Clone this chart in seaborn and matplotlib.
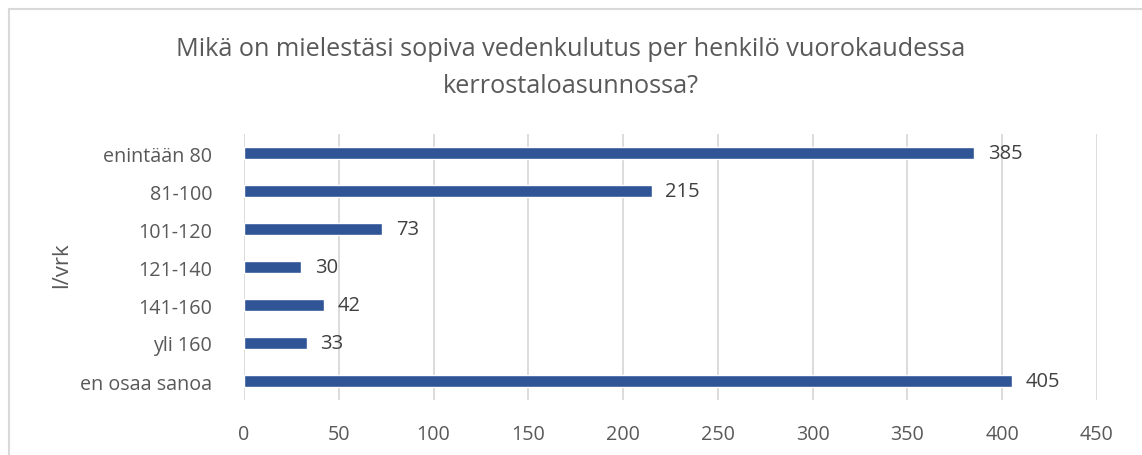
import matplotlib
matplotlib.use("Agg")
import matplotlib.pyplot as plt
import seaborn as sns
import pandas as pd
from matplotlib.patches import Rectangle

categories = ["enintään 80", "81-100", "101-120", "121-140", "141-160", "yli 160", "en osaa sanoa"]
counts = [385, 215, 73, 30, 42, 33, 405]
xticks = [0, 50, 100, 150, 200, 250, 300, 350, 400, 450]

df = pd.DataFrame({"luokka": categories, "vastaukset": counts})

sns.set_style("white")
plt.rcParams["font.family"] = ["Open Sans", "DejaVu Sans"]

fig = plt.figure(figsize=(11.42, 4.56), dpi=100)
ax = fig.add_axes([244 / 1142, 1 - 401 / 456, (1097 - 244) / 1142, (401 - 135) / 456])

sns.barplot(data=df, y="luokka", x="vastaukset", orient="h", color="#2F5597",
            width=0.34, saturation=1, ax=ax)

ax.set_xlim(0, 450)
ax.set_ylim(6.5, -0.5)
ax.set_xticks(xticks)
ax.grid(axis="x", color="#D9D9D9", linewidth=1.3)
ax.set_axisbelow(True)
for s in ax.spines.values():
    s.set_visible(False)
ax.tick_params(axis="both", length=0, labelsize=14.2, labelcolor="#595959")
ax.tick_params(axis="x", pad=17)
ax.tick_params(axis="y", pad=23)
ax.set_xlabel("")
ax.set_ylabel("l/vrk", fontsize=16, color="#595959")
ax.yaxis.set_label_coords(-0.202, 0.51)

ax.bar_label(ax.containers[0], padding=10, fontsize=14.5, color="#404040")

fig.text(0.5, 1 - 68 / 456,
         "Mikä on mielestäsi sopiva vedenkulutus per henkilö vuorokaudessa\nkerrostaloasunnossa?",
         ha="center", va="center", fontsize=18.2, color="#595959", linespacing=1.6)

fig.patches.append(Rectangle((9 / 1142, -0.1), 1.2, 1.1 - 10 / 456, transform=fig.transFigure,
                             fill=False, edgecolor="#D9D9D9", linewidth=1.5))

fig.savefig("out.png", dpi=100)
